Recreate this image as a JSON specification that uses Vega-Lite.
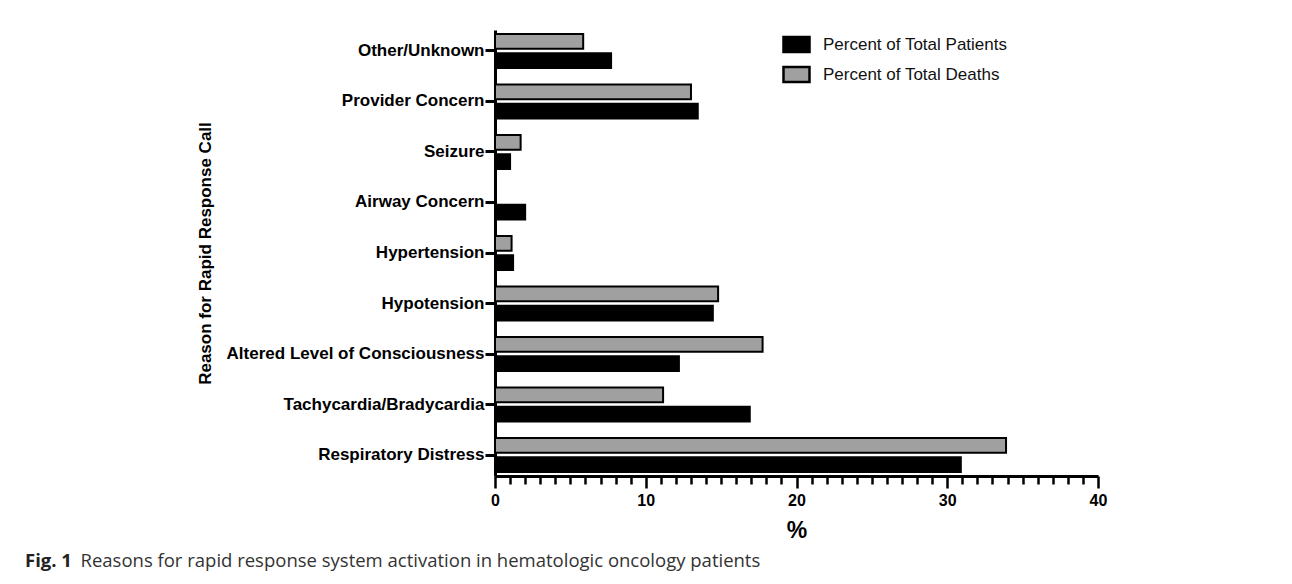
{
  "$schema": "https://vega.github.io/schema/vega-lite/v6.json",
  "width": 603,
  "height": 446,
  "padding": {"left": 25, "top": 30, "right": 10, "bottom": 4},
  "background": "white",
  "config": {"view": {"stroke": null}},
  "data": {
    "values": [
      {"reason": "Other/Unknown", "series": "Percent of Total Patients", "value": 7.7},
      {"reason": "Other/Unknown", "series": "Percent of Total Deaths", "value": 5.85},
      {"reason": "Provider Concern", "series": "Percent of Total Patients", "value": 13.45},
      {"reason": "Provider Concern", "series": "Percent of Total Deaths", "value": 13.0},
      {"reason": "Seizure", "series": "Percent of Total Patients", "value": 1.0},
      {"reason": "Seizure", "series": "Percent of Total Deaths", "value": 1.7},
      {"reason": "Airway Concern", "series": "Percent of Total Patients", "value": 2.0},
      {"reason": "Hypertension", "series": "Percent of Total Patients", "value": 1.2},
      {"reason": "Hypertension", "series": "Percent of Total Deaths", "value": 1.1},
      {"reason": "Hypotension", "series": "Percent of Total Patients", "value": 14.45},
      {"reason": "Hypotension", "series": "Percent of Total Deaths", "value": 14.8},
      {"reason": "Altered Level of Consciousness", "series": "Percent of Total Patients", "value": 12.2},
      {"reason": "Altered Level of Consciousness", "series": "Percent of Total Deaths", "value": 17.75},
      {"reason": "Tachycardia/Bradycardia", "series": "Percent of Total Patients", "value": 16.9},
      {"reason": "Tachycardia/Bradycardia", "series": "Percent of Total Deaths", "value": 11.15},
      {"reason": "Respiratory Distress", "series": "Percent of Total Patients", "value": 30.9},
      {"reason": "Respiratory Distress", "series": "Percent of Total Deaths", "value": 33.9}
    ]
  },
  "mark": {"type": "bar", "stroke": "black", "strokeWidth": 2},
  "encoding": {
    "y": {
      "field": "reason",
      "type": "nominal",
      "sort": ["Other/Unknown", "Provider Concern", "Seizure", "Airway Concern", "Hypertension", "Hypotension", "Altered Level of Consciousness", "Tachycardia/Bradycardia", "Respiratory Distress"],
      "scale": {"paddingInner": 0.33, "paddingOuter": 0.08},
      "title": "Reason for Rapid Response Call",
      "axis": {
        "labelFont": "Liberation Sans",
        "labelFontWeight": "bold",
        "labelFontSize": 17,
        "labelColor": "black",
        "labelPadding": 1,
        "labelLimit": 400,
        "tickSize": 10,
        "tickWidth": 3,
        "tickColor": "black",
        "domainWidth": 3,
        "domainColor": "black",
        "titleFont": "Liberation Sans",
        "titleFontWeight": "bold",
        "titleFontSize": 17,
        "titleColor": "black",
        "titlePadding": 81
      }
    },
    "yOffset": {
      "field": "series",
      "type": "nominal",
      "scale": {"domain": ["Percent of Total Deaths", "Percent of Total Patients"], "paddingInner": 0.23, "paddingOuter": 0}
    },
    "x": {
      "field": "value",
      "type": "quantitative",
      "scale": {"domain": [0, 40], "nice": false},
      "title": "%",
      "axis": {
        "values": [0,1,2,3,4,5,6,7,8,9,10,11,12,13,14,15,16,17,18,19,20,21,22,23,24,25,26,27,28,29,30,31,32,33,34,35,36,37,38,39,40],
        "labelExpr": "datum.value % 10 === 0 ? datum.label : ''",
        "grid": false,
        "tickSize": {"condition": {"test": "datum.value % 10 === 0", "value": 12}, "value": 8},
        "tickWidth": 2.5,
        "tickColor": "black",
        "domainWidth": 3,
        "domainColor": "black",
        "labelFont": "Liberation Sans",
        "labelFontWeight": "bold",
        "labelFontSize": 16,
        "labelColor": "black",
        "labelPadding": 4,
        "labelFlush": false,
        "labelOverlap": false,
        "titleFont": "Liberation Sans",
        "titleFontWeight": "bold",
        "titleFontSize": 23,
        "titleColor": "black",
        "titlePadding": 11
      }
    },
    "fill": {
      "field": "series",
      "type": "nominal",
      "scale": {"domain": ["Percent of Total Patients", "Percent of Total Deaths"], "range": ["black", "#a0a0a0"]},
      "legend": {
        "title": null,
        "orient": "none",
        "legendX": 287,
        "legendY": 0,
        "padding": 0,
        "symbolType": "M-1,-0.577H1V0.577H-1Z",
        "symbolSize": 676,
        "symbolStrokeColor": "black",
        "symbolStrokeWidth": 2.5,
        "symbolOpacity": 1,
        "labelFont": "Liberation Sans",
        "labelFontSize": 17,
        "labelColor": "#111111",
        "labelLimit": 400,
        "labelOffset": 12,
        "rowPadding": 2
      }
    }
  },
  "title": {
    "text": "Fig. 1",
    "subtitle": "\u200b\u2003\u2003\u2003Reasons for rapid response system activation in hematologic oncology patients",
    "orient": "bottom",
    "anchor": "start",
    "frame": "group",
    "dx": -470,
    "offset": 10,
    "font": "Open Sans",
    "fontSize": 18.5,
    "fontWeight": "bold",
    "color": "#222222",
    "subtitleFont": "Open Sans",
    "subtitleFontSize": 18.5,
    "subtitleFontWeight": "normal",
    "subtitleColor": "#333333",
    "subtitlePadding": -18.5
  }
}
